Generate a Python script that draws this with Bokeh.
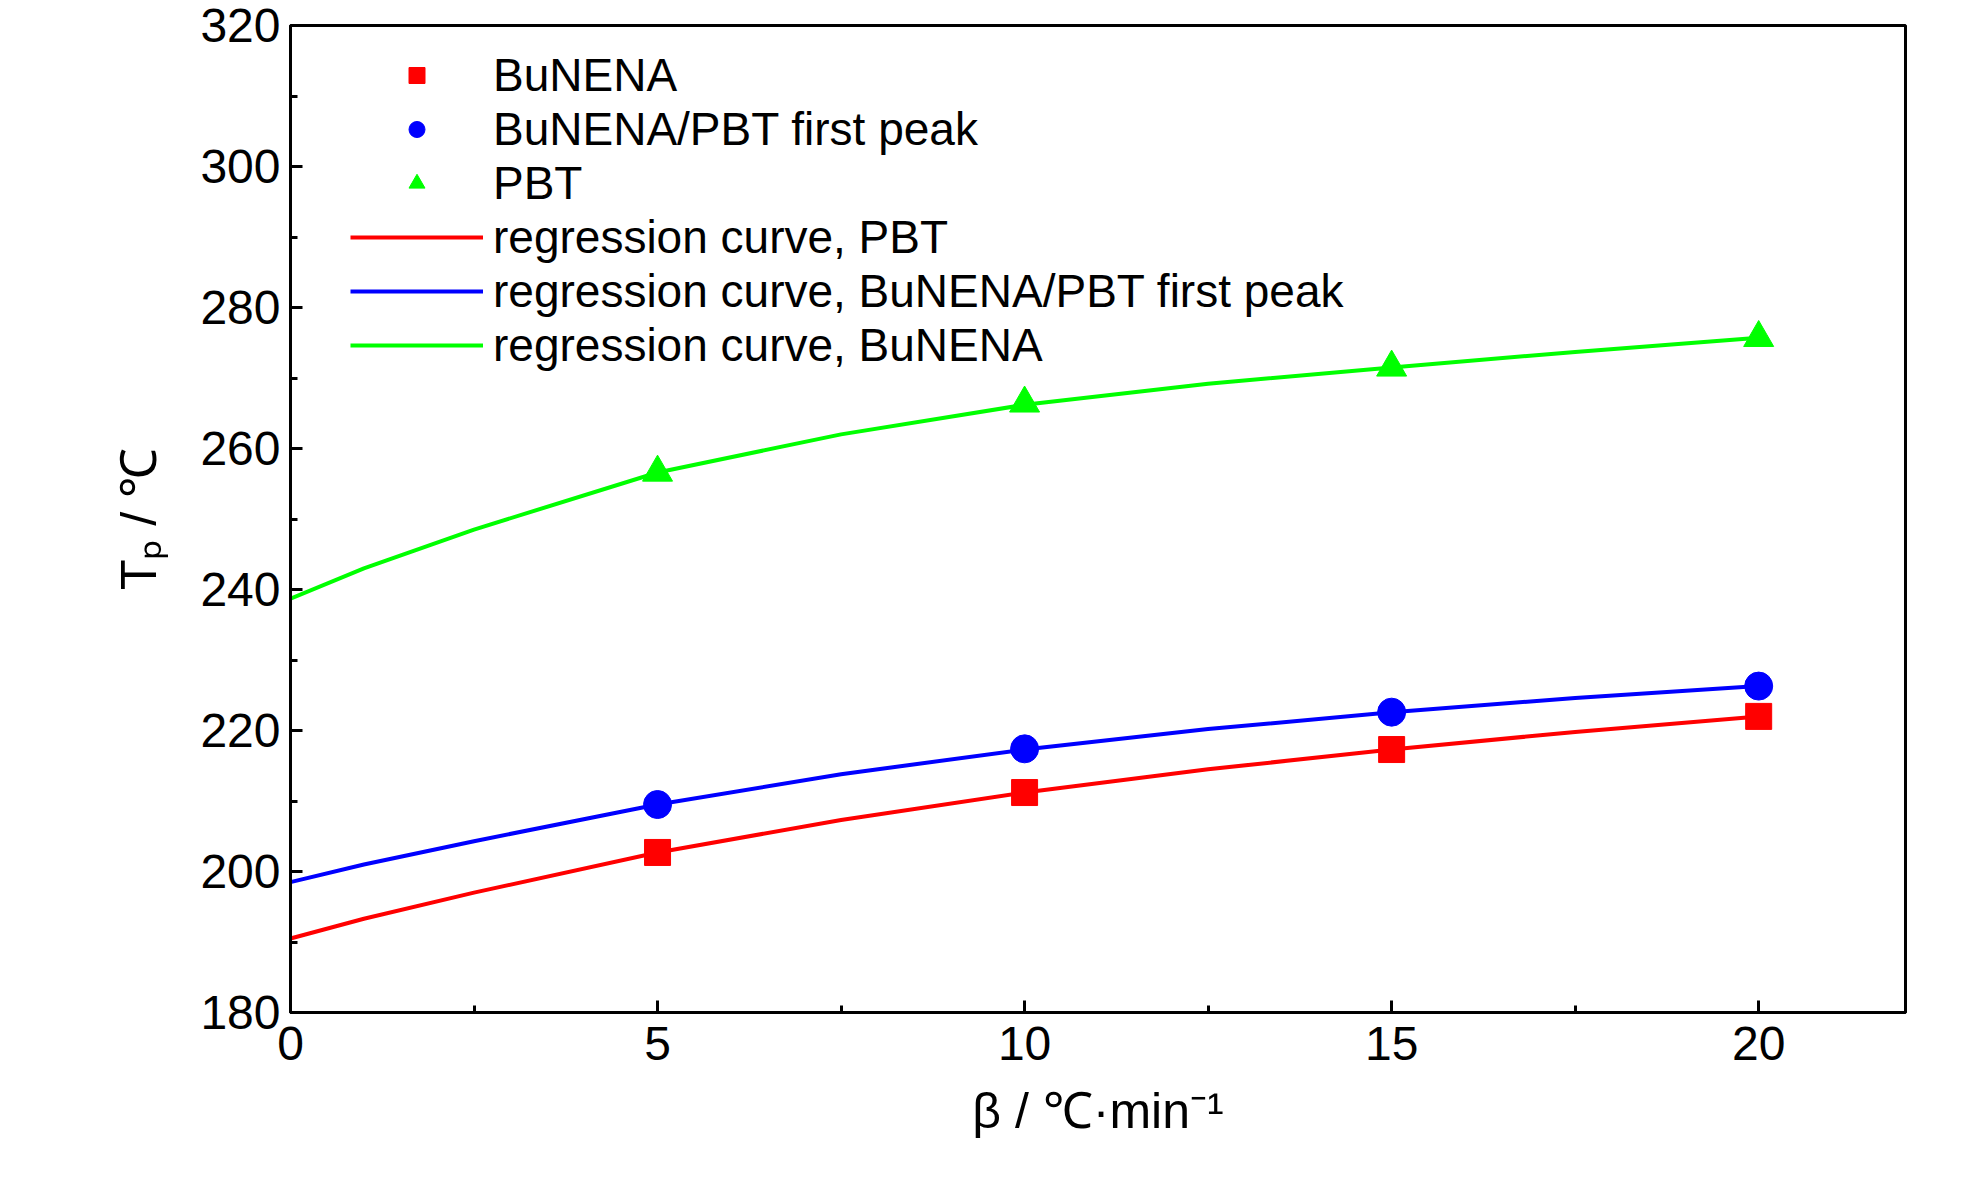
from bokeh.plotting import figure
from bokeh.models import Legend, LegendItem, FixedTicker
from bokeh.embed import file_html
from bokeh.resources import INLINE

beta = [5, 10, 15, 20]
bunena = [202.7, 211.2, 217.3, 222.0]
first_peak = [209.5, 217.4, 222.6, 226.3]
pbt = [256.6, 266.4, 271.5, 275.7]

curve_x = [0, 1, 2.5, 5, 7.5, 10, 12.5, 15, 17.5, 20]
curve_red = [190.5, 193.3, 197.0, 202.7, 207.3, 211.2, 214.5, 217.3, 219.8, 222.0]
curve_blue = [198.5, 201.0, 204.3, 209.5, 213.8, 217.3, 220.2, 222.6, 224.6, 226.3]
curve_green = [238.7, 243.0, 248.5, 256.6, 262.0, 266.2, 269.2, 271.5, 273.7, 275.7]

FONT = "Liberation Sans"
p = figure(width=1968, height=1165, x_range=(0, 22), y_range=(180, 320),
           output_backend="svg", toolbar_location=None,
           min_border_left=290, min_border_right=63, min_border_top=25, min_border_bottom=153)
p.grid.visible = False
p.outline_line_color = "black"
p.outline_line_width = 3
for ax in (p.xaxis[0], p.yaxis[0]):
    ax.axis_line_width = 3
    ax.major_tick_line_width = 3
    ax.minor_tick_line_width = 3
    ax.major_tick_in = 12
    ax.major_tick_out = 0
    ax.minor_tick_in = 7
    ax.minor_tick_out = 0
    ax.major_label_text_font = FONT
    ax.major_label_text_font_size = "48px"
    ax.major_label_text_color = "black"
    ax.axis_label_text_font = FONT
    ax.axis_label_text_font_size = "50px"
    ax.axis_label_text_font_style = "normal"
    ax.axis_label_text_color = "black"
p.xaxis.ticker = FixedTicker(ticks=[0, 5, 10, 15, 20], minor_ticks=[2.5, 7.5, 12.5, 17.5, 22])
p.yaxis.ticker = FixedTicker(ticks=list(range(180, 321, 20)), minor_ticks=list(range(190, 320, 20)))
p.xaxis.major_label_standoff = 14
p.yaxis.major_label_standoff = 10
p.xaxis.axis_label = "β / ℃·min⁻¹"
p.yaxis.axis_label = "Tₚ / ℃"
p.xaxis.axis_label_standoff = 20
p.yaxis.axis_label_standoff = 30

r1 = p.line(curve_x, curve_red, color="#ff0000", line_width=4)
r2 = p.line(curve_x, curve_blue, color="#0000ff", line_width=4)
r3 = p.line(curve_x, curve_green, color="#00ff00", line_width=4)
s1 = p.scatter(beta, bunena, marker="square", size=26, color="#ff0000")
s2 = p.scatter(beta, first_peak, marker="circle", size=28, color="#0000ff")
s3 = p.scatter(beta, pbt, marker="triangle", size=30, color="#00ff00")

legend = Legend(items=[
    LegendItem(label="BuNENA", renderers=[s1]),
    LegendItem(label="BuNENA/PBT first peak", renderers=[s2]),
    LegendItem(label="PBT", renderers=[s3]),
    LegendItem(label="regression curve, PBT", renderers=[r1]),
    LegendItem(label="regression curve, BuNENA/PBT first peak", renderers=[r2]),
    LegendItem(label="regression curve, BuNENA", renderers=[r3]),
], location=(60, 640), border_line_alpha=0, background_fill_alpha=0,
    label_text_font=FONT, label_text_font_size="46px", label_text_color="black",
    glyph_width=133, glyph_height=40, label_height=53, spacing=0, padding=0,
    margin=0, label_standoff=10)
p.add_layout(legend)

open("out.html", "w").write(file_html(p, INLINE))
